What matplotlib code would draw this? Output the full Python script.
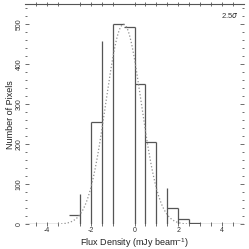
import numpy as np
import matplotlib
matplotlib.use("Agg")
import matplotlib.pyplot as plt
from matplotlib.ticker import MultipleLocator, FixedLocator

plt.rcParams['font.family'] = ['Liberation Sans', 'DejaVu Sans']
plt.rcParams['mathtext.fontset'] = 'custom'
plt.rcParams['mathtext.rm'] = 'Liberation Sans'

# Histogram top segments (bin left edge, bin right edge, count)
hist_left = [-5.0, -3.0, -2.0, -1.0, -0.5, 0.0, 0.5, 1.5, 2.0, 2.5, 3.0]
hist_right = [-3.5, -2.5, -1.5, -0.5, 0.0, 0.5, 1.0, 2.0, 2.5, 3.0, 5.0]
hist_count = [0, 23, 255, 500, 493, 350, 207, 42, 13, 3, 0]
# Vertical bin-edge lines (edge position, height)
edge_x = [-2.5, -2.0, -1.5, -1.0, 0.0, 0.5, 1.0, 1.5, 2.0, 2.5, 3.0]
edge_top = [75, 255, 458, 500, 493, 350, 207, 90, 42, 13, 3]

# Gaussian fit parameters
fit_amp = 500.0
fit_mean = -0.5
fit_sigma = 0.81
fit_range = (-3.5, 2.5)

minor_x = [-4.5, -4.0, -3.5, -2.5, -2.0, -1.5, -1.0, 0.0, 0.5, 1.0, 1.5, 2.5, 3.0, 3.5, 4.0, 4.5]

fig = plt.figure(figsize=(2.49, 2.49), dpi=100)
ax = fig.add_axes([25/249, 1 - 224.3/249, (244-25)/249, (224.3-4.3)/249])

hc = '#555555'
ax.hlines(hist_count, hist_left, hist_right, colors=hc, lw=0.9)
ax.vlines(edge_x, 0, edge_top, colors=hc, lw=0.9)

xs = np.linspace(fit_range[0], fit_range[1], 300)
ax.plot(xs, fit_amp * np.exp(-0.5 * ((xs - fit_mean) / fit_sigma) ** 2),
        color='#909090', ls=':', lw=0.9)

ax.set_xlim(-5, 5)
ax.set_ylim(0, 550)

for s in ['left', 'right', 'bottom']:
    ax.spines[s].set_visible(False)
ax.spines['top'].set_color('#555555')
ax.spines['top'].set_linewidth(0.8)

ax.xaxis.set_major_locator(FixedLocator([-4, -2, 0, 2, 4]))
ax.xaxis.set_minor_locator(FixedLocator(minor_x))
ax.yaxis.set_major_locator(MultipleLocator(100))
ax.yaxis.set_minor_locator(MultipleLocator(20))

ax.tick_params(axis='x', which='both', top=True, bottom=True, direction='inout',
               colors='#555555', labelcolor='#333333', labelsize=5, pad=0.5)
ax.tick_params(axis='x', which='major', length=3.5, width=0.6)
ax.tick_params(axis='x', which='minor', length=2.5, width=0.6)
ax.tick_params(axis='y', which='both', left=True, right=True, direction='in',
               colors='#555555', labelcolor='#333333', labelsize=5, pad=1.5)
ax.tick_params(axis='y', which='major', length=3, width=0.6)
ax.tick_params(axis='y', which='minor', length=1.5, width=0.6)
for lab in ax.get_yticklabels():
    lab.set_rotation(90)
    lab.set_va('center')

ax.set_xticklabels(['-4', '-2', '0', '2', '4'])
ax.set_xlabel('Flux Density (mJy beam$^{-1}$)', fontsize=6.5, color='#222222')
ax.xaxis.set_label_coords(0.5, -(246.0 - 224.3) / 220.0)
ax.xaxis.label.set_va('baseline')
ax.set_ylabel('Number of Pixels', fontsize=6.5, color='#222222', labelpad=1)

ax.text(0.975, 0.97, '2.5$\\sigma$', transform=ax.transAxes, ha='right', va='top',
        fontsize=5.5, color='#333333')

fig.savefig('out.png', dpi=100)
